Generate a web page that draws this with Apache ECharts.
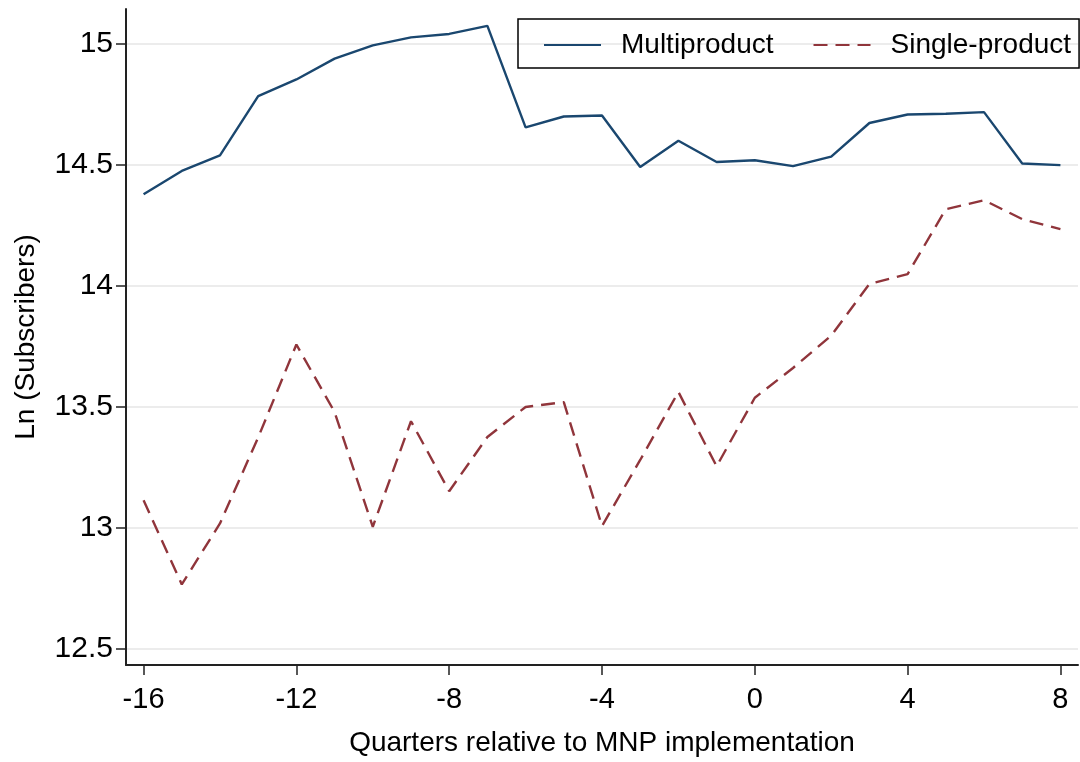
<!DOCTYPE html>
<html>
<head>
<meta charset="utf-8">
<script src="https://cdn.jsdelivr.net/npm/echarts@6/dist/echarts.min.js"></script>
<style>
html,body{margin:0;padding:0;background:#fff;}
#chart{width:1080px;height:762px;}
</style>
</head>
<body>
<div id="chart"></div>
<script>
const quarters = [-16,-15,-14,-13,-12,-11,-10,-9,-8,-7,-6,-5,-4,-3,-2,-1,0,1,2,3,4,5,6,7,8];
const multiproduct = [14.378,14.474,14.538,14.783,14.852,14.938,14.993,15.026,15.040,15.073,14.654,14.699,14.703,14.490,14.599,14.511,14.518,14.494,14.533,14.672,14.707,14.710,14.717,14.505,14.498];
const singleProduct = [13.114,12.766,13.018,13.373,13.757,13.478,13.004,13.440,13.151,13.375,13.499,13.519,13.007,13.280,13.561,13.254,13.537,13.660,13.794,14.007,14.048,14.316,14.353,14.275,14.234];
const xTicks = [-16,-12,-8,-4,0,4,8];
const yTicks = [12.5,13,13.5,14,14.5,15];

const FONT = '"Liberation Sans", Arial, Helvetica, sans-serif';
const chart = echarts.init(document.getElementById('chart'), null, {renderer:'canvas'});
const pairs = arr => quarters.map((q,i)=>[q, arr[i]]);

chart.setOption({
  animation:false,
  backgroundColor:'#fff',
  textStyle:{fontFamily:FONT},
  grid:{left:126, right:2, top:9, bottom:95, containLabel:false},
  legend:{
    left:518, top:19, width:700,
    orient:'horizontal',
    padding:[12,8,9,25],
    itemGap:39,
    itemWidth:57, itemHeight:20,
    borderColor:'#000', borderWidth:1.5, borderRadius:0,
    itemStyle:{opacity:0},
    textStyle:{fontFamily:FONT, fontSize:28, color:'#000', padding:[0,0,0,15]},
    data:['Multiproduct','Single-product']
  },
  xAxis:{
    type:'value', min:-16.46, max:8.46,
    name:'Quarters relative to MNP implementation',
    nameLocation:'middle', nameGap:64,
    nameTextStyle:{fontFamily:FONT, fontSize:28, color:'#000'},
    axisLine:{show:true, onZero:false, lineStyle:{color:'#222', width:2}},
    axisTick:{show:true, length:10, lineStyle:{color:'#222', width:1.5}, customValues:xTicks},
    axisLabel:{fontFamily:FONT, fontSize:29, color:'#000', margin:20, customValues:xTicks, formatter:v=>String(v)},
    splitLine:{show:false}
  },
  yAxis:{
    type:'value', min:12.433, max:15.143,
    name:'Ln (Subscribers)',
    nameLocation:'middle', nameGap:86, nameRotate:90,
    nameTextStyle:{fontFamily:FONT, fontSize:28, color:'#000'},
    axisLine:{show:true, onZero:false, lineStyle:{color:'#222', width:2}},
    axisTick:{show:true, length:10, lineStyle:{color:'#222', width:1.5}, customValues:yTicks},
    axisLabel:{fontFamily:FONT, fontSize:30, color:'#000', margin:13, customValues:yTicks, formatter:v=>String(v)},
    splitLine:{show:true, lineStyle:{color:'#e6e6e6', width:1.5}}
  },
  series:[
    {name:'Multiproduct', type:'line', symbol:'none', data:pairs(multiproduct),
     lineStyle:{color:'#1a476f', width:2.4}, itemStyle:{color:'#1a476f'}},
    {name:'Single-product', type:'line', symbol:'none', data:pairs(singleProduct),
     lineStyle:{color:'#90353b', width:2.4, type:[14,8]}, itemStyle:{color:'#90353b'}}
  ]
});
</script>
</body>
</html>
